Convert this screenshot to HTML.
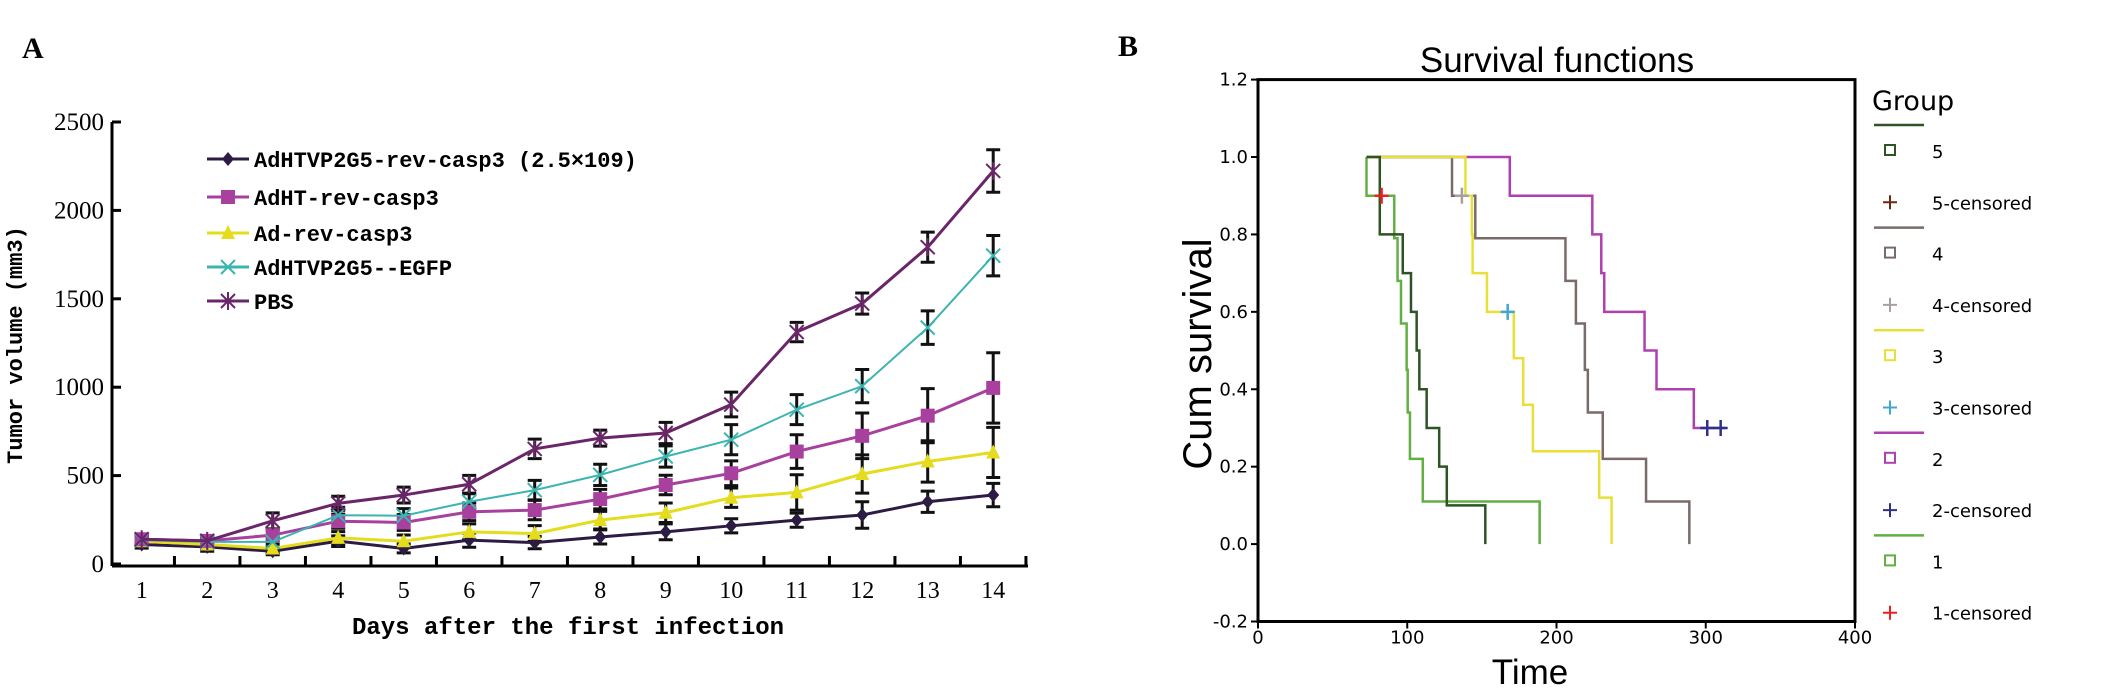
<!DOCTYPE html>
<html><head><meta charset="utf-8">
<style>
html,body{margin:0;padding:0;background:#fff;}
svg{display:block;}
.mono{font-family:"Liberation Mono","DejaVu Sans Mono",monospace;font-weight:bold;}
.serif{font-family:"Liberation Serif",serif;}
.sans{font-family:"Liberation Sans",Arial,sans-serif;}
.tah{font-family:"DejaVu Sans","Liberation Sans",sans-serif;}
</style></head>
<body>
<svg id="fig" width="2128" height="692" viewBox="0 0 2128 692" xmlns="http://www.w3.org/2000/svg">
<text x="22" y="58" class="serif" font-size="30" font-weight="bold">A</text>
<text x="1118" y="56" class="serif" font-size="30" font-weight="bold">B</text>
<g id="panelA"></g>
<g id="panelB"></g>
</svg>
<script>
// ---------- Panel A data ----------
const days = [1,2,3,4,5,6,7,8,9,10,11,12,13,14];
const yTicksA = [0,500,1000,1500,2000,2500];
const seriesNames = ["AdHTVP2G5-rev-casp3 (2.5×109)","AdHT-rev-casp3","Ad-rev-casp3","AdHTVP2G5--EGFP","PBS"];
const vHTVP = [110,97,72,129,88,135,121,153,182,216,248,277,352,390];
const vAdHT = [140,131,163,242,235,295,305,367,447,513,636,725,839,996];
const vAd   = [129,110,88,148,129,182,172,248,290,375,405,509,580,631];
const vEGFP = [135,125,125,276,273,352,418,504,608,703,873,1006,1337,1744];
const vPBS  = [140,131,244,343,390,451,651,712,741,902,1312,1473,1792,2223];
const eHTVP = [20,25,20,30,25,40,35,40,45,40,40,75,60,66];
const eAdHT = [25,25,30,40,45,50,55,55,55,70,95,129,153,199];
const eAd   = [20,25,25,35,35,45,45,50,55,55,100,108,117,142];
const eEGFP = [25,25,30,45,40,45,55,60,60,85,85,94,95,114];
const ePBS  = [30,30,45,40,45,50,55,45,60,70,55,60,85,120];

// ---------- Panel B data ----------
const xTicksB = [0,100,200,300,400];
const yTicksB = [-0.2,0.0,0.2,0.4,0.6,0.8,1.0,1.2];
const kmStart = 72.7;
const g1T = [72.7,91.3,93.5,95.8,99.6,100.3,101.8,110.4,188.7];
const g1S = [0.9,0.79,0.68,0.57,0.45,0.34,0.22,0.11,0];
const g5T = [81.6,97,102.5,106.3,108.1,113,121.4,126.5,152.3];
const g5S = [0.8,0.7,0.6,0.5,0.4,0.3,0.2,0.1,0];
const g3T = [139,143.3,143.8,153.4,171.4,177.7,184.2,228.6,236.9];
const g3S = [0.9,0.8,0.7,0.6,0.48,0.36,0.24,0.12,0];
const g4T = [130,145.6,206,213,219,221,231,260,289];
const g4S = [0.9,0.79,0.68,0.57,0.45,0.34,0.22,0.11,0];
const g2T = [168.7,224,230,232,259,267,292];
const g2S = [0.9,0.8,0.7,0.6,0.5,0.4,0.3];
const g2End = 313;
const cens1T = [82.8], cens1S = [0.9];
const cens4T = [136.6], cens4S = [0.9];
const cens3T = [167.3], cens3S = [0.6];
const cens2T = [301,310], cens2S = [0.3,0.3];
const legendLabels = ["5","5-censored","4","4-censored","3","3-censored","2","2-censored","1","1-censored"];

const NS="http://www.w3.org/2000/svg";
function mk(tag, attrs, parent){const e=document.createElementNS(NS,tag);for(const k in attrs)e.setAttribute(k,attrs[k]);parent.appendChild(e);return e;}

// ===== Panel A =====
const A=document.getElementById('panelA');
const ax0=112, ay0=564, ax1=1028, ayTop=122;
const xA = d => 141.7 + (d-1)*65.5;
const yA = v => ay0 - v*(ay0-ayTop)/2500;
let e;
e=mk('line',{x1:ax0,y1:ayTop,x2:ax0,y2:ay0+2,stroke:'#000','stroke-width':3},A);


e=mk('line',{x1:ax0,y1:ay0+2,x2:ax1,y2:ay0+2,stroke:'#000','stroke-width':3},A);


yTicksA.forEach(v=>{
  mk('line',{x1:ax0,y1:yA(v),x2:ax0+9,y2:yA(v),stroke:'#000','stroke-width':3},A);
  const t=mk('text',{x:ax0-8,y:yA(v)+8,'text-anchor':'end','font-size':25,class:'serif'},A);
  t.textContent=v;
  
  
});
days.forEach(d=>{
  mk('line',{x1:xA(d)+32.75,y1:ay0+2,x2:xA(d)+32.75,y2:ay0-8,stroke:'#000','stroke-width':3},A);
  const t=mk('text',{x:xA(d),y:ay0+34,'text-anchor':'middle','font-size':24,class:'serif'},A);
  t.textContent=d;
  
  
});
e=mk('text',{x:568,y:634,'text-anchor':'middle','font-size':24,class:'mono'},A);
e.textContent='Days after the first infection';


e=mk('text',{x:0,y:0,'text-anchor':'middle','font-size':22,class:'mono',transform:'translate(22,345) rotate(-90)'},A);
e.textContent='Tumor volume (mm3)';



function marker(kind,x,y,col,p){
  if(kind==='diamond') return mk('path',{d:`M${x} ${y-7}L${x+6} ${y}L${x} ${y+7}L${x-6} ${y}Z`,fill:col},p);
  if(kind==='square') return mk('rect',{x:x-7,y:y-7,width:14,height:14,fill:col},p);
  if(kind==='tri') return mk('path',{d:`M${x} ${y-8}L${x+7} ${y+6}L${x-7} ${y+6}Z`,fill:col},p);
  if(kind==='x') return mk('path',{d:`M${x-7} ${y-7}L${x+7} ${y+7}M${x+7} ${y-7}L${x-7} ${y+7}`,stroke:col,'stroke-width':2,fill:'none'},p);
  return mk('path',{d:`M${x-7} ${y-7}L${x+7} ${y+7}M${x+7} ${y-7}L${x-7} ${y+7}M${x} ${y-9}L${x} ${y+9}`,stroke:col,'stroke-width':2,fill:'none'},p);
}
const sers=[
 {v:vPBS,e:ePBS,c:'#6a2668',m:'star',n:'pbs',w:3},
 {v:vEGFP,e:eEGFP,c:'#3cb4b0',m:'x',n:'egfp',w:2},
 {v:vAdHT,e:eAdHT,c:'#a8409e',m:'square',n:'adht',w:3},
 {v:vAd,e:eAd,c:'#e4dc1c',m:'tri',n:'ad',w:3},
 {v:vHTVP,e:eHTVP,c:'#2c1c44',m:'diamond',n:'adhtvp',w:3}
];
sers.forEach(s=>{
  const g=mk('g',{},A);
  
  
  days.forEach((d,i)=>{
    const x=xA(d), y1=yA(s.v[i]+s.e[i]), y2=yA(s.v[i]-s.e[i]);
    mk('path',{d:`M${x} ${y1}L${x} ${y2}M${x-7} ${y1}L${x+7} ${y1}M${x-7} ${y2}L${x+7} ${y2}`,stroke:'#111','stroke-width':3,fill:'none'},g);
  });
});
sers.slice().reverse().forEach(s=>{
  const g=mk('g',{},A);
  
  
  const pl=mk('polyline',{points:days.map((d,i)=>xA(d)+','+yA(s.v[i])).join(' '),fill:'none',stroke:s.c,'stroke-width':s.w},g);
  
  
  days.forEach((d,i)=>{
    const m=marker(s.m,xA(d),yA(s.v[i]),s.c,g);
    
    
  });
});
const legA=[{c:'#2c1c44',m:'diamond'},{c:'#a8409e',m:'square'},{c:'#e4dc1c',m:'tri'},{c:'#3cb4b0',m:'x'},{c:'#6a2668',m:'star'}];
const legRowsY=[159,197,233,267,301];
seriesNames.forEach((nm,i)=>{
  const g=mk('g',{},A);
  
  
  mk('line',{x1:207,y1:legRowsY[i],x2:249,y2:legRowsY[i],stroke:legA[i].c,'stroke-width':3},g);
  marker(legA[i].m,228,legRowsY[i],legA[i].c,g);
  const t=mk('text',{x:254,y:legRowsY[i]+8,'font-size':22,class:'mono'},g);
  t.textContent=nm;
});

// ===== Panel B =====
const B=document.getElementById('panelB');
const bx0=1258,bx1=1855,by0=621.5,byTop=79.6;
const xB=t=>bx0+t*(bx1-bx0)/400;
const yB=s=>by0-(s+0.2)*(by0-byTop)/1.4;
e=mk('rect',{x:bx0,y:byTop,width:bx1-bx0,height:by0-byTop,fill:'none',stroke:'#000','stroke-width':3},B);


yTicksB.forEach(v=>{
  mk('line',{x1:bx0-7,y1:yB(v),x2:bx0,y2:yB(v),stroke:'#000','stroke-width':2},B);
  const t=mk('text',{x:bx0-10,y:yB(v)+6,'text-anchor':'end','font-size':18,class:'tah'},B);
  t.textContent=v.toFixed(1);
  
  
});
xTicksB.forEach(v=>{
  mk('line',{x1:xB(v),y1:by0,x2:xB(v),y2:by0+7,stroke:'#000','stroke-width':2},B);
  const t=mk('text',{x:xB(v),y:by0+22,'text-anchor':'middle','font-size':18,class:'tah'},B);
  t.textContent=v;
  
  
});
e=mk('text',{x:1557,y:72,'text-anchor':'middle','font-size':35,class:'sans'},B);
e.textContent='Survival functions';


e=mk('text',{x:1530,y:684,'text-anchor':'middle','font-size':35,class:'sans'},B);
e.textContent='Time';


e=mk('text',{x:0,y:0,'text-anchor':'middle','font-size':40,class:'sans',transform:'translate(1211,354) rotate(-90)'},B);
e.textContent='Cum survival';



function km(T,S,col,name,endT){
  let d=`M${xB(kmStart)} ${yB(1)}`;
  T.forEach((t,i)=>{d+=`H${xB(t)}V${yB(S[i])}`;});
  if(endT!==undefined) d+=`H${xB(endT)}`;
  const p=mk('path',{d:d,fill:'none',stroke:col,'stroke-width':2.5},B);
  
  
}
function cens(T,S,col,name){
  T.forEach((t,i)=>{
    const x=xB(t),y=yB(S[i]);
    const p=mk('path',{d:`M${x-7} ${y}H${x+7}M${x} ${y-8}V${y+8}`,stroke:col,'stroke-width':2.5},B);
    
    
  });
}
km(g2T,g2S,'#b040b0','group-2-curve',g2End);
km(g4T,g4S,'#7a6a6a','group-4-curve');
km(g3T,g3S,'#e8e038','group-3-curve');
km(g1T,g1S,'#62b044','group-1-curve');
km(g5T,g5S,'#2e5424','group-5-curve');
cens(cens1T,cens1S,'#e82020','group-1-censored-mark');
cens(cens4T,cens4S,'#a8a0a0','group-4-censored-mark');
cens(cens3T,cens3S,'#40a8d0','group-3-censored-mark');
cens(cens2T,cens2S,'#303088','group-2-censored-mark');

e=mk('text',{x:1872,y:110,'font-size':27,class:'tah'},B);
e.textContent='Group';


const grpCol=['#2e5424','#7a6a6a','#e8e038','#b040b0','#62b044'];
const cenCol=['#6a2a10','#a8a0a0','#40a8d0','#303088','#e82020'];
legendLabels.forEach((lab,i)=>{
  const y=151+i*51.3;
  const gi=Math.floor(i/2);
  const g=mk('g',{},B);
  
  
  if(i%2===0){
    mk('line',{x1:1874,y1:y-26,x2:1924,y2:y-26,stroke:grpCol[gi],'stroke-width':2.5},g);
    mk('rect',{x:1885,y:y-6,width:10,height:10,fill:'none',stroke:grpCol[gi],'stroke-width':2},g);
  } else {
    mk('path',{d:`M${1883} ${y}H${1897}M${1890} ${y-7}V${y+7}`,stroke:cenCol[gi],'stroke-width':2},g);
  }
  const t=mk('text',{x:1932,y:y+7,'font-size':18,class:'tah'},g);
  t.textContent=lab;
});
</script>
</body></html>
